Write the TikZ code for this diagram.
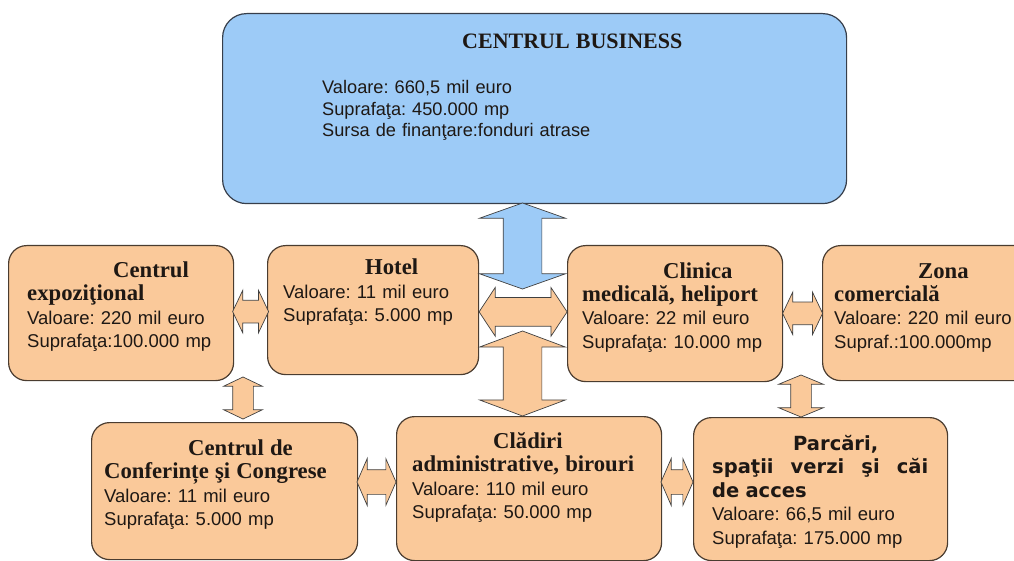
\documentclass[tikz,border=0pt]{standalone}
\usepackage{fontspec}
\setmainfont{Liberation Sans}
\newfontfamily\serifttl{Liberation Serif}
\newfontfamily\sansttl{DejaVu Sans}
\usetikzlibrary{shapes.arrows,calc}
\frenchspacing

\definecolor{boxorange}{RGB}{250,201,154}
\definecolor{boxblue}{RGB}{157,203,247}
\definecolor{edgebrown}{RGB}{74,60,48}
\definecolor{edgeblue}{RGB}{55,62,74}
\definecolor{txtdark}{RGB}{30,24,20}

\newcommand{\ttl}[1]{{\serifttl\bfseries\fontsize{22.7}{23.5}\selectfont #1}}
\newcommand{\pttl}[1]{{\sansttl\bfseries\fontsize{19.5}{23.5}\selectfont #1}}

\begin{document}
\begin{tikzpicture}[x=1pt,y=-1pt,
    box/.style={draw=edgebrown, line width=1.2pt, fill=boxorange, rounded corners=18pt,
      anchor=north west, inner sep=0pt},
    txt/.style={anchor=base west, inner sep=0pt, text width=300pt, align=left,
      font=\fontsize{18.5}{23.5}\selectfont, text=txtdark},
    dbl/.style={double arrow, draw=black!75, line width=0.7pt, fill=boxorange,
      inner xsep=0pt, outer sep=0pt}]
    \useasboundingbox (0,0) rectangle (1014,561);
    \clip (0,0) rectangle (1014,561);

    % Top box
    \node[box, fill=boxblue, draw=edgeblue, rounded corners=24pt,
      minimum width=624pt, minimum height=190pt] (business) at (222,13) {};
    \node[txt] (businessttl) at (462,49) {\serifttl\bfseries\fontsize{22}{24}\selectfont CENTRUL BUSINESS};
    \node[txt, font=\fontsize{18.2}{21.5}\selectfont] (businesstxt) at (322,94)
      {Valoare: 660,5 mil euro\\Suprafaţa: 450.000 mp\\Sursa de finanţare:fonduri atrase};

    % First row
    \node[box, minimum width=225pt, minimum height=135pt] (expo) at (8,245) {};
    \node[box, minimum width=211pt, minimum height=129pt] (hotel) at (267,245) {};
    \node[box, minimum width=215pt, minimum height=136pt] (clinica) at (567,245) {};
    \node[box, minimum width=230pt, minimum height=135pt] (zona) at (822,245) {};

    \node[txt] (expotxt) at (27,277)
      {\hspace*{86pt}\ttl{Centrul}\\\ttl{expoziţional}\\Valoare: 220 mil euro\\Suprafaţa:100.000 mp};
    \node[txt] (hoteltxt) at (283,275)
      {\hspace*{82pt}\ttl{Hotel}\\Valoare: 11 mil euro\\Suprafaţa: 5.000 mp};
    \node[txt] (clinicatxt) at (582,278)
      {\hspace*{81pt}\ttl{Clinica}\\\ttl{medicală, heliport}\\Valoare: 22 mil euro\\Suprafaţa: 10.000 mp};
    \node[txt] (zonatxt) at (834,278)
      {\hspace*{84pt}\ttl{Zona}\\\ttl{comercială}\\Valoare: 220 mil euro\\Supraf.:100.000mp};

    % Second row
    \node[box, minimum width=266pt, minimum height=137pt] (conf) at (91,422) {};
    \node[box, minimum width=265pt, minimum height=144pt] (cladiri) at (396,416) {};
    \node[box, minimum width=254pt, minimum height=143pt] (parcari) at (693,417) {};

    \node[txt] (conftxt) at (104,455)
      {\hspace*{84pt}\ttl{Centrul de}\\\ttl{Conferințe şi Congrese}\\Valoare: 11 mil euro\\Suprafaţa: 5.000 mp};
    \node[txt] (claditxt) at (412,448)
      {\hspace*{81pt}\ttl{Clădiri}\\\ttl{administrative, birouri}\\Valoare: 110 mil euro\\Suprafaţa: 50.000 mp};
    \node[txt] (parcaritxt) at (712,450)
      {\hspace*{81pt}\pttl{Parcări,}\\\leavevmode\pttl{\hbox to 216pt{spaţii\hfill verzi\hfill şi\hfill căi}}\\\pttl{de acces}\\Valoare: 66,5 mil euro\\Suprafaţa: 175.000 mp};

    % Arrows
    \node[dbl, fill=boxblue, rotate=90, minimum height=86pt, minimum width=85pt, inner ysep=19pt,
      double arrow head extend=23.5pt, double arrow tip angle=141] (bizarr) at (522.5,246) {};
    \node[dbl, rotate=90, minimum height=85pt, minimum width=85pt, inner ysep=19pt,
      double arrow head extend=23.5pt, double arrow tip angle=139] (cladarr) at (522.5,373.5) {};
    \node[dbl, minimum height=88pt, minimum width=48pt, inner ysep=14pt,
      double arrow head extend=10pt, double arrow tip angle=113]
      (hcarr) at ($(hotel.east)!.5!(clinica.west)$) {};
    \node[dbl, minimum height=36pt, minimum width=42pt, inner ysep=11pt,
      double arrow head extend=10pt, double arrow tip angle=129]
      (eharr) at ($(expo.east)!.5!(hotel.west)$) {};
    \node[dbl, minimum height=40pt, minimum width=42pt, inner ysep=11pt,
      double arrow head extend=10pt, double arrow tip angle=129]
      (czarr) at ($(clinica.east)!.5!(zona.west)$) {};
    \node[dbl, rotate=90, minimum height=42pt, minimum width=38pt, inner ysep=10pt,
      double arrow head extend=9pt, double arrow tip angle=129] (ecarr) at (243,398) {};
    \node[dbl, rotate=90, minimum height=42pt, minimum width=44pt, inner ysep=10pt,
      double arrow head extend=12pt, double arrow tip angle=135] (zparr) at (801,396) {};
    \node[dbl, minimum height=39pt, minimum width=46pt, inner ysep=12pt,
      double arrow head extend=11pt, double arrow tip angle=133] (ccarr) at (376.5,482) {};
    \node[dbl, minimum height=32pt, minimum width=46pt, inner ysep=12pt,
      double arrow head extend=11pt, double arrow tip angle=133] (cparr) at (677,482) {};
\end{tikzpicture}
\end{document}
